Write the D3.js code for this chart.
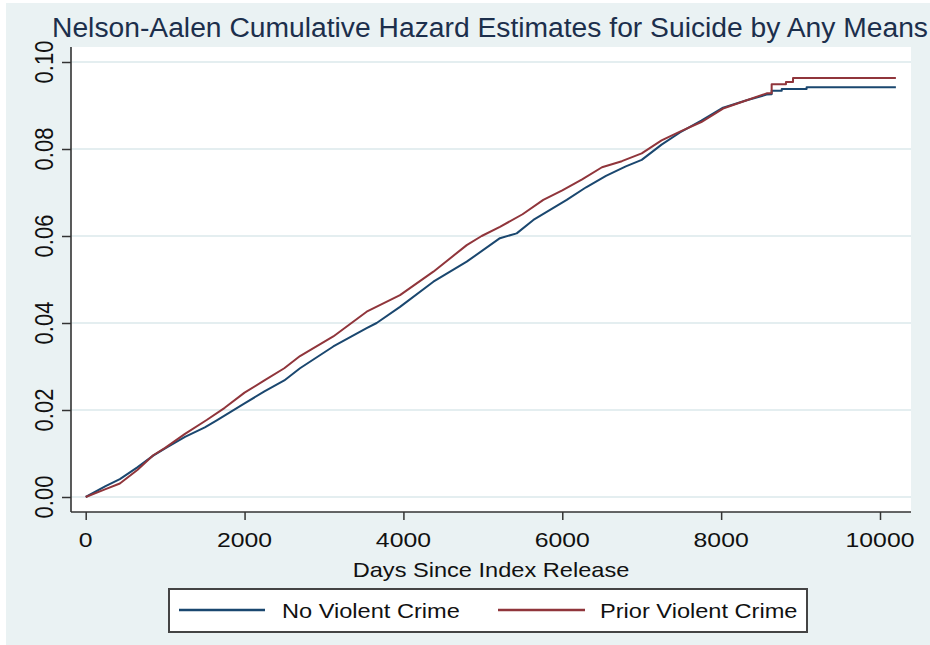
<!DOCTYPE html>
<html><head><meta charset="utf-8">
<script src="https://cdn.jsdelivr.net/npm/d3@7"></script>
<style>body{margin:0;background:#fff}svg{display:block}text{font-family:"Liberation Sans",Arial,sans-serif}</style>
</head><body>
<svg id="c" width="930" height="645"></svg>
<script>
const title = "Nelson-Aalen Cumulative Hazard Estimates for Suicide by Any Means";
const xTitle = "Days Since Index Release";
const seriesNames = ["No Violent Crime", "Prior Violent Crime"];
const xTicks = [0, 2000, 4000, 6000, 8000, 10000];
const yTicks = [0, 0.02, 0.04, 0.06, 0.08, 0.10];

const noViolentDays = [0,250,430,650,850,1000,1250,1500,1650,2000,2250,2500,2698,3117,3537,3663,3957,4377,4797,5215,5426,5636,6056,6300,6550,6800,7000,7250,7482,7750,8024,8322,8573,8636,8636,8763,8763,9076,9076,10200];
const noViolentHaz = [0,0.0025,0.0041,0.0068,0.0095,0.0112,0.0138,0.0160,0.0176,0.0215,0.0243,0.0268,0.0296,0.0346,0.0388,0.0400,0.0437,0.0495,0.0541,0.0595,0.0606,0.0637,0.0683,0.0712,0.0738,0.0760,0.0775,0.0810,0.0838,0.0865,0.0895,0.0912,0.0925,0.0926,0.0934,0.0934,0.0938,0.0938,0.0942,0.0942];

const priorDays = [0,250,430,650,850,1000,1250,1523,1750,2000,2250,2500,2698,3117,3537,3957,4377,4797,4985,5215,5500,5761,6000,6250,6500,6750,7000,7250,7482,7750,8024,8322,8573,8636,8636,8816,8816,8905,8905,10200];
const priorHaz = [0,0.0018,0.0031,0.0062,0.0096,0.0113,0.0145,0.0177,0.0205,0.0240,0.0268,0.0296,0.0324,0.0369,0.0426,0.0464,0.0518,0.0579,0.0600,0.0621,0.0650,0.0683,0.0705,0.0730,0.0758,0.0772,0.0790,0.0820,0.0840,0.0862,0.0893,0.0912,0.0928,0.0928,0.0949,0.0949,0.0954,0.0954,0.0963,0.0963];

const colors = ["#1a476f", "#90353b"];
const SX = 1.18;

const svg = d3.select("#c");
svg.append("rect").attr("x",6).attr("y",3).attr("width",924).attr("height",642).attr("fill","#eaf2f3");

const L = 71, R = 911, T = 47, B = 512;
svg.append("rect").attr("x",L).attr("y",T).attr("width",R-L).attr("height",B-T).attr("fill","#fff");

const x = d3.scaleLinear().domain([0,10000]).range([85.7,880]);
const y = d3.scaleLinear().domain([0,0.10]).range([497,62]);

// gridlines
svg.append("g").selectAll("line").data(yTicks).join("line")
  .attr("x1",L).attr("x2",R).attr("y1",d=>y(d)).attr("y2",d=>y(d))
  .attr("stroke","#e4eef0").attr("stroke-width",2);

// axes
const xAxis = svg.append("g").attr("transform",`translate(0,${B})`)
  .call(d3.axisBottom(x).tickValues(xTicks).tickSize(8).tickFormat(""));
const yAxis = svg.append("g").attr("transform",`translate(${L},0)`)
  .call(d3.axisLeft(y).tickValues(yTicks).tickSize(9).tickFormat(""));
[xAxis,yAxis].forEach(a=>{
  a.select(".domain").remove();
  a.selectAll(".tick line").attr("stroke","#333").attr("stroke-width",1.5);
});
svg.append("line").attr("x1",L).attr("x2",R).attr("y1",B).attr("y2",B).attr("stroke","#333").attr("stroke-width",1.6);
svg.append("line").attr("x1",L).attr("x2",L).attr("y1",T).attr("y2",B).attr("stroke","#333").attr("stroke-width",1.6);

// x tick labels
svg.append("g").selectAll("g").data(xTicks).join("g")
  .attr("transform",d=>`translate(${x(d)},547) scale(${SX},1)`)
  .append("text").attr("text-anchor","middle").attr("font-size",21).attr("fill","#111")
  .text(d=>d3.format("d")(d));

// y tick labels
svg.append("g").selectAll("g").data(yTicks).join("g")
  .attr("transform",d=>`translate(53,${y(d)}) scale(1.15,1) rotate(-90)`)
  .append("text").attr("text-anchor","middle").attr("font-size",22).attr("fill","#111")
  .text(d=>d3.format(".2f")(d));

// x title
svg.append("g").attr("transform",`translate(491,577) scale(${SX},1)`)
  .append("text").attr("text-anchor","middle").attr("font-size",20).attr("fill","#111").text(xTitle);

// title
const tt = svg.append("text").attr("x",52).attr("y",37).attr("font-size",27).attr("fill","#1c2f4c").text(title);
tt.attr("textLength",876).attr("lengthAdjust","spacingAndGlyphs");

// lines
const series = [
  noViolentDays.map((d,i)=>[d,noViolentHaz[i]]),
  priorDays.map((d,i)=>[d,priorHaz[i]])
];
const line = d3.line().x(d=>x(d[0])).y(d=>y(d[1]));
series.forEach((s,i)=>{
  svg.append("path").datum(s).attr("d",line).attr("fill","none")
    .attr("stroke",colors[i]).attr("stroke-width",2).attr("stroke-linejoin","round");
});

// legend
svg.append("rect").attr("x",169).attr("y",589).attr("width",638).attr("height",43)
  .attr("fill","#fff").attr("stroke","#444").attr("stroke-width",2);
const legItems = [{x1:179,x2:265,tx:282},{x1:498,x2:585,tx:600}];
legItems.forEach((o,i)=>{
  svg.append("line").attr("x1",o.x1).attr("x2",o.x2).attr("y1",610).attr("y2",610)
    .attr("stroke",colors[i]).attr("stroke-width",2.5);
  svg.append("g").attr("transform",`translate(${o.tx},618) scale(${SX},1)`)
    .append("text").attr("font-size",20).attr("fill","#111").text(seriesNames[i]);
});
</script>
</body></html>
